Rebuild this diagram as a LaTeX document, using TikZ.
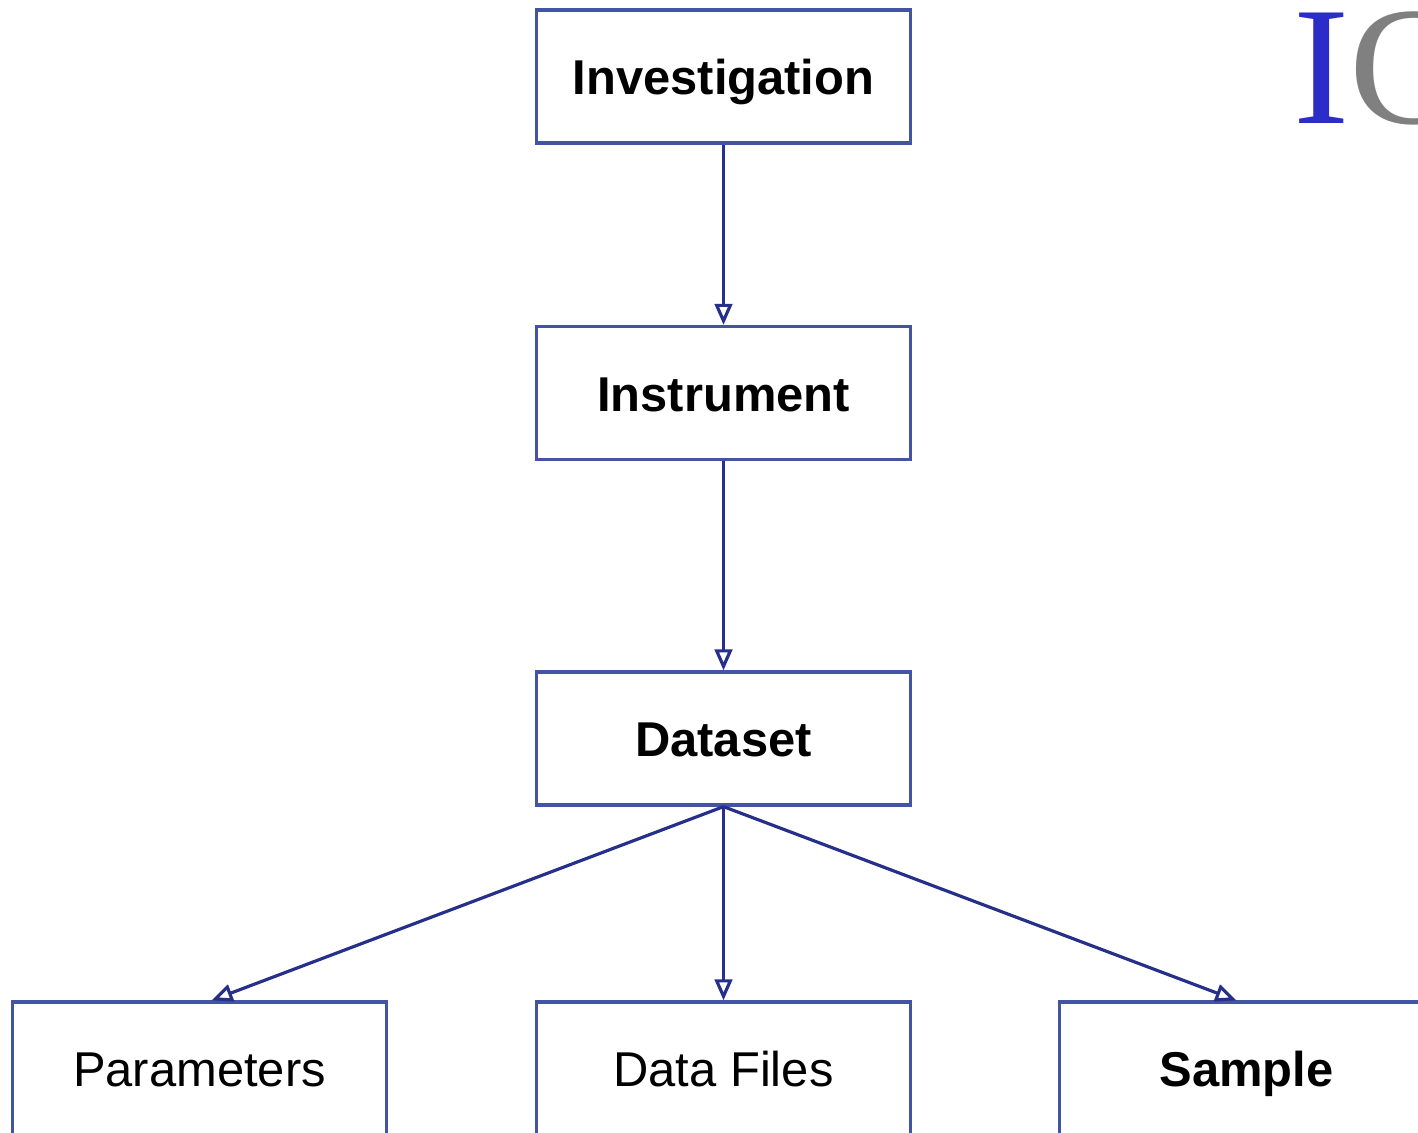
\documentclass[tikz,border=0pt]{standalone}
\usepackage{fontspec}
\setmainfont{Liberation Sans}
\newfontfamily\logofont{Liberation Serif}
\usetikzlibrary{arrows.meta}

\definecolor{linkblue}{RGB}{38,48,138}
\definecolor{boxblue}{RGB}{68,84,164}
\definecolor{logoblue}{RGB}{44,44,200}
\definecolor{logogray}{RGB}{128,128,128}

\begin{document}
\begin{tikzpicture}[x=0.01cm, y=-0.01cm,
		entity/.style={draw=boxblue, line width=0.9pt, minimum width=3.73cm,
			minimum height=1.33cm, inner sep=0pt, text height=12.5pt, text depth=2pt,
			font=\fontsize{13.9}{16}\selectfont},
		link/.style={draw=linkblue, line width=0.9pt,
			-{Triangle[open, length=6pt, width=5pt]}}]
		\useasboundingbox (0, 0) rectangle (1418, 1132);
		\clip (0, 0) rectangle (1418, 1132);
		
		% the chain down the middle
		\node[entity] (inv) at (723.5, 76.5) {\bfseries Investigation};
		\node[entity] (ins) at (723.5, 393) {\bfseries Instrument};
		\node[entity] (ds) at (723.5, 738.5) {\bfseries Dataset};
		
		% bottom row, cut off by the clip
		\node[entity] (par) at (199.5, 1068.5) {Parameters};
		\node[entity] (df) at (723.5, 1068.5) {Data Files};
		\node[entity] (smp) at (1246.5, 1068.5) {\bfseries Sample};
		
		% logo in the corner
		\node[anchor=base west, inner sep=0pt, font=\logofont\fontsize{48}{50}\selectfont]
			(logo) at (1293, 123) {\textcolor{logoblue}{I}\textcolor{logogray}{C}};
		
		\draw[link] (inv) -- (ins);
		\draw[link] (ins) -- (ds);
		\draw[link] (ds.south) -- ([xshift=0.12cm]par.north);
		\draw[link] (ds) -- (df);
		\draw[link] (ds.south) -- ([xshift=-0.1cm]smp.north);
	\end{tikzpicture}
\end{document}
